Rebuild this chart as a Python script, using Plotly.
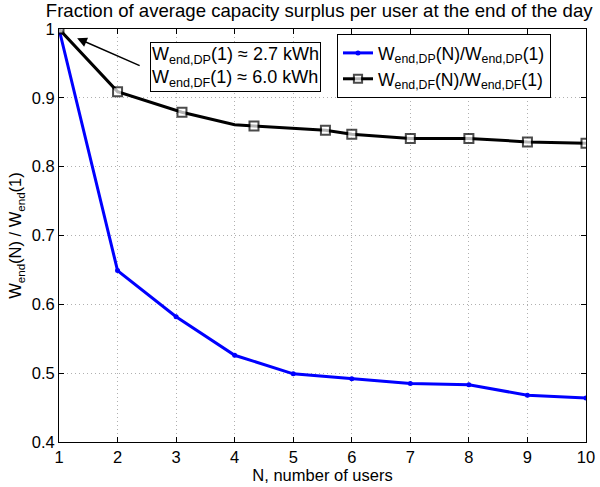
import plotly.graph_objects as go

# Data
n_users = [1, 2, 3, 4, 5, 6, 7, 8, 9, 10]
dp_ratio = [1.0, 0.649, 0.582, 0.526, 0.499, 0.492, 0.485, 0.483, 0.468, 0.464]

df_x = [1, 2, 3.1, 4, 4.33, 5.55, 6, 7, 8, 9, 10]
df_ratio = [1.0, 0.909, 0.879, 0.861, 0.859, 0.853, 0.847, 0.841, 0.841, 0.836, 0.834]
df_marker_size = [9, 9, 9, 0, 9, 9, 9, 9, 9, 9, 9]

x_ticks = [1, 2, 3, 4, 5, 6, 7, 8, 9, 10]
x_ticklabels = ["1", "2", "3", "4", "5", "6", "7", "8", "9", "10"]
y_ticks = [0.4, 0.5, 0.6, 0.7, 0.8, 0.9, 1.0]
y_ticklabels = ["0.4", "0.5", "0.6", "0.7", "0.8", "0.9", "1"]

FONT = "Liberation Sans, Arial, Helvetica, sans-serif"

fig = go.Figure()
fig.add_trace(go.Scatter(
    x=n_users, y=dp_ratio, mode="lines+markers",
    name="W<sub>end,DP</sub>(N)/W<sub>end,DP</sub>(1)",
    line=dict(color="#0000ff", width=3),
    marker=dict(symbol="circle", size=5, color="#0000ff"),
))
fig.add_trace(go.Scatter(
    x=df_x, y=df_ratio, mode="lines+markers",
    name="W<sub>end,DF</sub>(N)/W<sub>end,DF</sub>(1)",
    line=dict(color="black", width=3),
    marker=dict(symbol="square", size=df_marker_size, color="white",
                line=dict(color="black", width=2)),
))

axis_common = dict(
    showline=True, linecolor="black", linewidth=1, mirror="ticks",
    ticks="inside", ticklen=5, tickcolor="black",
    showgrid=True, gridcolor="#b0b0b0", griddash="1px,3px", gridwidth=1,
    zeroline=False, automargin=False,
    tickfont=dict(family=FONT, size=16.5, color="black"),
)

fig.update_layout(
    width=600, height=487,
    margin=dict(l=59, r=14, t=29, b=45),
    paper_bgcolor="white", plot_bgcolor="white",
    font=dict(family=FONT, size=16.5, color="black"),
    title=dict(text="Fraction of average capacity surplus per user at the end of the day",
               x=0.532, xanchor="center", yref="container", y=0.979, yanchor="middle",
               font=dict(family=FONT, size=18.6, color="black")),
    xaxis=dict(range=[1, 10], tickvals=x_ticks, ticktext=x_ticklabels,
               title=dict(text="N, number of users", standoff=1,
                          font=dict(family=FONT, size=16.5)),
               **axis_common),
    yaxis=dict(range=[0.4, 1.0], tickvals=y_ticks, ticktext=y_ticklabels,
               title=dict(text="W<sub>end</sub>(N) / W<sub>end</sub>(1)", standoff=5,
                          font=dict(family=FONT, size=16.5)),
               **axis_common),
    legend=dict(x=0.5275, y=0.988, xanchor="left", yanchor="top",
                bgcolor="white", bordercolor="black", borderwidth=1,
                font=dict(family=FONT, size=17.6, color="black"),
                tracegroupgap=0, itemwidth=30),
    showlegend=True,
)

# text box
fig.add_annotation(
    xref="paper", yref="paper", x=0.334, y=0.908, xanchor="center", yanchor="middle",
    text="W<sub>end,DP</sub>(1) ≈ 2.7 kWh<br>W<sub>end,DF</sub>(1) ≈ 6.0 kWh",
    showarrow=False, align="left", bgcolor="white", bordercolor="black", borderwidth=1,
    borderpad=1, font=dict(family=FONT, size=18, color="black"),
)
# arrow
fig.add_annotation(
    xref="x", yref="y", x=1.31, y=0.9865, text="", showarrow=True,
    ax=64, ay=28, arrowhead=2, arrowsize=1.3, arrowwidth=1.5, arrowcolor="black",
)

fig.write_html("out.html")
